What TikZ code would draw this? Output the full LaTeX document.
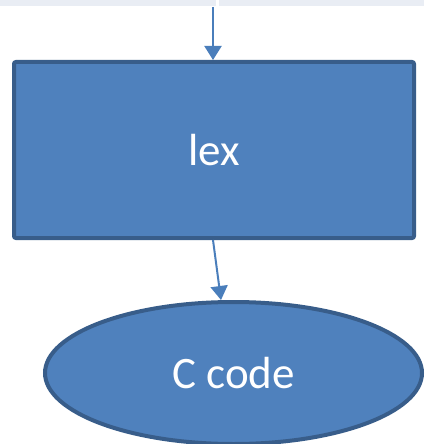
\documentclass[tikz,border=0pt]{standalone}
\usepackage{fontspec}
\setmainfont{Carlito}
\usetikzlibrary{arrows.meta,shapes.geometric}
\definecolor{boxfill}{HTML}{4F81BD}
\definecolor{boxline}{HTML}{385D8A}
\definecolor{arrowcol}{HTML}{4A7EBB}
\definecolor{bandcol}{HTML}{E9EDF4}
\tikzset{
  block/.style={draw=boxline, fill=boxfill, line width=4pt, text=white,
    font=\fontsize{45}{54}\selectfont, inner sep=0pt},
  flow/.style={draw=arrowcol, line width=2pt,
    -{Triangle[width=17pt,length=14pt]}}
}
\begin{document}
\begin{tikzpicture}[x=1pt,y=-1pt]
  \useasboundingbox (0,0) rectangle (424,444);
  % strip of the shape above
  \fill[bandcol] (0,0) rectangle (216,6);
  \fill[bandcol] (219,0) rectangle (424,6);
  \coordinate (in) at (213,7);
  % lex box
  \node[block, rectangle, rounded corners=2pt, minimum width=400pt,
        minimum height=176pt] (lex) at (214,150) {lex};
  % output ellipse
  \node[block, ellipse, minimum width=377pt, minimum height=142pt]
        (code) at (233.5,373) {C code};
  \draw[flow] (in) -- ([xshift=-1pt]lex.north);
  \draw[flow] ([xshift=-1pt]lex.south) -- ([xshift=-12.5pt]code.north);
\end{tikzpicture}
\end{document}
